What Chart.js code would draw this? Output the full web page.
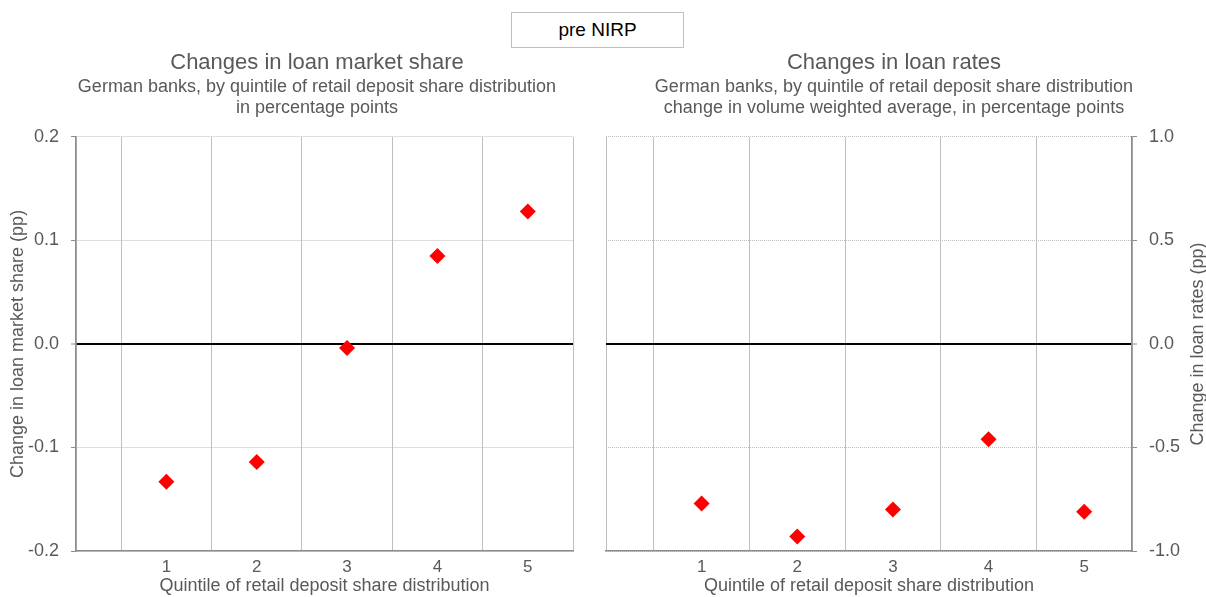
<!DOCTYPE html>
<html>
<head>
<meta charset="utf-8">
<script src="https://cdn.jsdelivr.net/npm/chart.js@4/dist/chart.umd.min.js"></script>
<style>
  body { margin: 0; background: #fff; }
  #wrap { position: relative; width: 1206px; height: 597px; overflow: hidden; font-family: "Liberation Sans", Arial, sans-serif; }
  #shareChart { position: absolute; left: 0; top: 0; }
  #ratesChart { position: absolute; left: 582px; top: 0; }
  #legendBox {
    position: absolute; left: 511px; top: 12px; width: 171px; height: 34px;
    border: 1px solid #bfbfbf; text-align: center; line-height: 34px;
    font-size: 19px; color: #000; background: #fff;
  }
</style>
</head>
<body>
<div id="wrap">
  <canvas id="shareChart" width="634" height="597"></canvas>
  <canvas id="ratesChart" width="624" height="597"></canvas>
  <div id="legendBox">pre NIRP</div>
</div>
<script>
/* eslint-disable no-undef */
// data
const quintiles = [1, 2, 3, 4, 5];
const marketShareChange = [-0.133, -0.114, -0.004, 0.085, 0.128];
const loanRateChange = [-0.77, -0.93, -0.80, -0.46, -0.81];
const seriesLabel = "pre NIRP";

const shareTicks = [-0.2, -0.1, 0.0, 0.1, 0.2];
const rateTicks = [-1.0, -0.5, 0.0, 0.5, 1.0];

// vertical separators between the quintiles
const gridBounds = [0, 0.5].concat(quintiles.map((q) => q + 0.5));

const FONT = "'Liberation Sans', Arial, sans-serif";
const TEXT = "#595959";
const GRID = "#bfbfbf";
const AXIS = "#8c8c8c";

function isZero(v) {
  return Math.abs(v) < 1e-9;
}

function makePoints(values) {
  return quintiles.map((q, i) => ({ x: q, y: values[i] }));
}

function buildOptions(cfg) {
  return {
    responsive: false,
    animation: false,
    events: [],
    layout: { padding: { top: 50, left: 0, right: 0, bottom: 0 } },
    plugins: {
      legend: { display: false },
      tooltip: { enabled: false },
      title: {
        display: true,
        text: cfg.title,
        color: TEXT,
        font: { family: FONT, size: 22, weight: "normal", lineHeight: 1.2 },
        padding: { top: 0, bottom: 0 },
      },
      subtitle: {
        display: true,
        text: cfg.subtitle,
        color: TEXT,
        font: { family: FONT, size: 18, weight: "normal", lineHeight: 21 / 18 },
        padding: { top: 0, bottom: 18.5 },
      },
    },
    scales: {
      x: {
        type: "linear",
        position: "bottom",
        min: 0,
        max: 5.5,
        afterBuildTicks: (scale) => {
          scale.ticks = quintiles.map((q) => ({ value: q }));
        },
        afterFit: (scale) => {
          scale.height = 46;
        },
        grid: { display: false, drawTicks: false },
        border: { display: true, color: AXIS, width: 1.5 },
        ticks: {
          color: TEXT,
          padding: 6,
          font: { family: FONT, size: 17 },
          callback: (v) => String(v),
        },
        title: {
          display: true,
          text: "Quintile of retail deposit share distribution",
          color: TEXT,
          font: { family: FONT, size: 18, lineHeight: 1.2 },
          padding: { top: 0, bottom: 0 },
        },
      },
      xg: {
        type: "linear",
        position: "top",
        min: 0,
        max: 5.5,
        afterBuildTicks: (scale) => {
          scale.ticks = gridBounds.map((b) => ({ value: b }));
        },
        afterFit: (scale) => {
          scale.height = 0;
        },
        grid: { color: GRID, lineWidth: 1, drawTicks: false },
        border: { display: false },
        ticks: { display: false },
      },
      y: {
        position: cfg.yPosition,
        min: cfg.yTicks[0],
        max: cfg.yTicks[cfg.yTicks.length - 1],
        afterBuildTicks: (scale) => {
          scale.ticks = cfg.yTicks.map((t) => ({ value: t }));
        },
        afterFit: (scale) => {
          scale.width = cfg.yWidth;
        },
        grid: {
          color: (ctx) => (isZero(ctx.tick.value) ? "#000" : GRID),
          lineWidth: (ctx) => (isZero(ctx.tick.value) ? 2 : 1),
          tickColor: AXIS,
          tickWidth: 1,
          tickLength: 5,
          tickBorderDash: [],
        },
        border: {
          display: true,
          color: AXIS,
          width: 1.5,
          dash: (ctx) => (ctx.tick && isZero(ctx.tick.value) ? [] : [1, 1]),
        },
        ticks: {
          color: TEXT,
          padding: 12,
          font: { family: FONT, size: 18 },
          callback: (v) => Number(v).toFixed(1),
        },
        title: cfg.yTitle
          ? {
              display: true,
              text: cfg.yTitle,
              color: TEXT,
              font: { family: FONT, size: 18, lineHeight: 1.2 },
              padding: { top: 7, bottom: 0 },
            }
          : { display: false },
      },
      // empty side axis: keeps the titles centred on the whole panel
      side: {
        type: "linear",
        position: cfg.sidePosition,
        afterFit: (scale) => {
          scale.width = cfg.sideWidth;
        },
        grid: { display: false, drawTicks: false },
        border: { display: false },
        ticks: { display: false },
      },
    },
  };
}

function buildDataset(values) {
  return {
    label: seriesLabel,
    data: makePoints(values),
    xAxisID: "x",
    yAxisID: "y",
    showLine: false,
    pointStyle: "rectRot",
    pointRadius: 8,
    pointBackgroundColor: "#ff0000",
    pointBorderWidth: 0,
  };
}

// right hand axis title reads bottom-to-top in the original
const rightAxisTitle = {
  id: "rightAxisTitle",
  afterDraw(chart) {
    const y = chart.scales.y;
    const ctx = chart.ctx;
    ctx.save();
    ctx.translate(y.right - 8, (chart.chartArea.top + chart.chartArea.bottom) / 2);
    ctx.rotate(-Math.PI / 2);
    ctx.fillStyle = TEXT;
    ctx.font = "18px " + FONT;
    ctx.textAlign = "center";
    ctx.textBaseline = "middle";
    ctx.fillText("Change in loan rates (pp)", 0, 0);
    ctx.restore();
  },
};

new Chart(document.getElementById("shareChart").getContext("2d"), {
  type: "scatter",
  data: { datasets: [buildDataset(marketShareChange)] },
  options: buildOptions({
    title: "Changes in loan market share",
    subtitle: [
      "German banks, by quintile of retail deposit share distribution",
      "in percentage points",
    ],
    yPosition: "left",
    yTicks: shareTicks,
    yWidth: 76,
    yTitle: "Change in loan market share (pp)",
    sidePosition: "right",
    sideWidth: 61,
  }),
});

new Chart(document.getElementById("ratesChart").getContext("2d"), {
  type: "scatter",
  data: { datasets: [buildDataset(loanRateChange)] },
  options: buildOptions({
    title: "Changes in loan rates",
    subtitle: [
      "German banks, by quintile of retail deposit share distribution",
      "change in volume weighted average, in percentage points",
    ],
    yPosition: "right",
    yTicks: rateTicks,
    yWidth: 74,
    yTitle: null,
    sidePosition: "left",
    sideWidth: 24,
  }),
  plugins: [rightAxisTitle],
});
</script>
</body>
</html>
